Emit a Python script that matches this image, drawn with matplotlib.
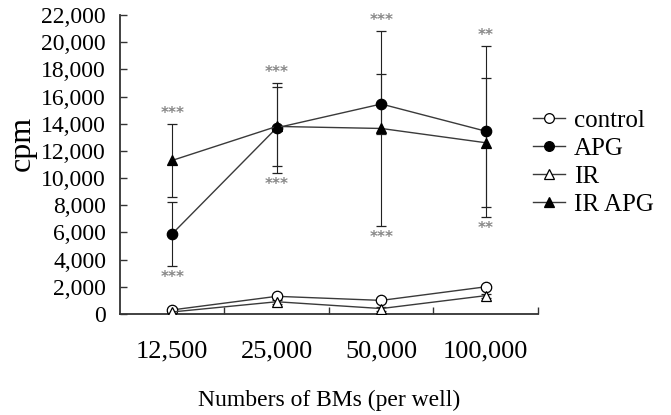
import matplotlib
matplotlib.use('Agg')
import matplotlib.pyplot as plt
from matplotlib.lines import Line2D
from matplotlib.ticker import FuncFormatter

# Data
groups = ['12,500', '25,000', '50,000', '100,000']
control = [300, 1300, 1000, 2000]
control_err = [120, 150, 150, 150]
apg = [5900, 13700, 15450, 13450]
apg_err = [2350, 3300, 2200, 6300]
ir = [150, 900, 400, 1350]
ir_err = [100, 150, 150, 150]
ir_apg = [11300, 13800, 13650, 12600]
ir_apg_err = [2700, 2900, 7200, 4750]
stars_top = ['***', '***', '***', '**']
stars_bottom = ['***', '***', '***', '**']

plt.rcParams['font.family'] = ['Liberation Serif', 'DejaVu Serif']

fig = plt.figure(figsize=(6.71, 4.15), dpi=100)
ax = fig.add_axes([0.1788, 0.2434, 0.623, 0.7205])

x = [i + 0.5 for i in range(len(groups))]
line_col = '#3a3a3a'

series = [
    ('control', control, control_err, 'o', 'white'),
    ('APG', apg, apg_err, 'o', 'black'),
    ('IR', ir, ir_err, '^', 'white'),
    ('IR APG', ir_apg, ir_apg_err, '^', 'black'),
]
handles = []
for name, vals, errs, mk, fc in series:
    ax.errorbar(x, vals, yerr=errs, color=line_col, lw=1.0, marker=mk,
                markersize=7.5, markerfacecolor=fc, markeredgecolor='black',
                markeredgewidth=0.9, ecolor='#222222', elinewidth=0.8,
                capsize=3.5, capthick=0.8, zorder=3)
    handles.append(Line2D([], [], color=line_col, lw=1.0, marker=mk, markersize=7,
                          markerfacecolor=fc, markeredgecolor='black',
                          markeredgewidth=0.9, label=name))

# significance stars above/below the outermost error caps
for i in range(len(groups)):
    hi = max(apg[i] + apg_err[i], ir_apg[i] + ir_apg_err[i])
    lo = min(apg[i] - apg_err[i], ir_apg[i] - ir_apg_err[i])
    ax.annotate(stars_top[i], (x[i], hi), xytext=(0, 2), textcoords='offset points',
                ha='center', va='bottom', fontsize=11, color='#888888',
                family='DejaVu Sans', fontweight='bold')
    ax.annotate(stars_bottom[i], (x[i], lo), xytext=(0, -3), textcoords='offset points',
                ha='center', va='top', fontsize=11, color='#888888',
                family='DejaVu Sans', fontweight='bold')

ax.set_xlim(0, 4)
ax.set_ylim(0, 22000)
ax.set_yticks(range(0, 22001, 2000))
ax.yaxis.set_major_formatter(FuncFormatter(lambda v, p: f'{int(v):,}'))
ax.set_xticks([1, 2, 3, 4])
ax.set_xticklabels([])
ax.set_xticks(x, minor=True)
ax.set_xticklabels(groups, minor=True, fontsize=19)
ax.tick_params(axis='x', which='minor', length=0, pad=19)
ax.tick_params(axis='x', which='major', direction='in', length=5, width=1.0, color='#333333')
ax.tick_params(axis='y', direction='in', length=5, width=1.0, color='#333333',
               labelsize=17, pad=10)

for side in ['top', 'right']:
    ax.spines[side].set_visible(False)
for side in ['left', 'bottom']:
    ax.spines[side].set_color('#333333')
    ax.spines[side].set_linewidth(1.3)

ax.set_ylabel('cpm', fontsize=23)
ax.yaxis.set_label_coords(-0.198, 0.57)
ax.set_xlabel('Numbers of BMs (per well)', fontsize=17, labelpad=20)

ax.legend(handles=handles, loc='center left', bbox_to_anchor=(0.775, 0.609),
          bbox_transform=fig.transFigure, frameon=False, fontsize=18,
          handlelength=1.3, handletextpad=0.35, labelspacing=0.22, borderpad=0)

fig.savefig('out.png', dpi=100)
